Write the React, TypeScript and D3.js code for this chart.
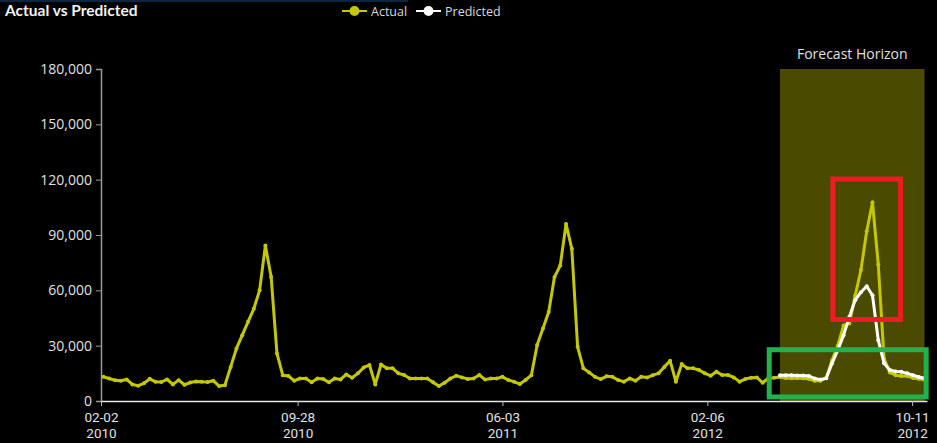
import React, { useEffect, useRef } from 'react';
import * as d3 from 'd3';

const WIDTH = 937;
const HEIGHT = 443;

// weekly observations, first one on this date
const firstWeek = '2010-02-05';
const actual = [
  13100, 12200, 11200, 11000, 11700, 9000, 8300, 9600, 12000, 10400,
  10300, 11700, 9000, 11300, 8800, 10000, 10600, 10400, 10300, 11000,
  8100, 8500, 18500, 28500, 35700, 42900, 50000, 60000, 84300, 67200,
  25800, 14000, 13500, 11000, 12200, 12200, 10100, 12200, 11900, 10100,
  12200, 11700, 14400, 12600, 15000, 18200, 19500, 9000, 19800, 17700,
  17700, 15000, 14100, 12200, 12200, 12200, 12200, 10100, 8100, 9900,
  12200, 13700, 12800, 11900, 12200, 14100, 11600, 12200, 12200, 13100,
  11400, 10500, 9200, 11400, 14000, 30300, 39300, 48300, 67200, 73500,
  96000, 82500, 29400, 17700, 15500, 13100, 11900, 13400, 13100, 11400,
  10500, 12200, 11000, 13100, 12700, 14000, 15000, 18500, 21800, 10500,
  20000, 17700, 17700, 16800, 15000, 13700, 15900, 14100, 14100, 12800,
  10500, 11900, 12600, 12800, 9900, 12300, 12600, 13000, 12500, 12300,
  12500, 12300, 12000, 11000, 11000, 12500, 22000, 30000, 41000, 42000,
  57000, 71000, 92000, 107700, 74000, 23000, 15500, 14000, 13500, 13500,
  12500, 12000, 11500,
];

const forecastStart = '2012-05-04';
const predicted = [
  14000, 14000, 14000, 13800, 13800, 13600, 12200, 11600, 12300, 20400,
  27600, 35700, 45600, 54600, 59000, 62200, 57300, 33000, 20500, 16800,
  16000, 15800, 15000, 14000, 13000, 12300,
];

const xDomain = ['2010-02-02', '2012-10-29'];
const xTicks = ['2010-02-02', '2010-09-28', '2011-06-03', '2012-02-06', '2012-10-11'];
const yTicks = [0, 30000, 60000, 90000, 120000, 150000, 180000];

// hand-drawn highlight boxes on top of the chart
const boxFrom = ['2012-07-07', '2012-04-21'];
const boxTo = ['2012-09-27', '2012-10-28'];
const boxLow = [44200, 2200];
const boxHigh = [120300, 27800];
const boxColor = ['#ed1c24', '#22b14c'];

const ACTUAL_COLOR = '#c4c800';
const PRED_COLOR = '#ffffff';
const FONT = "'Segoe UI', 'Open Sans', sans-serif";

interface Point { date: Date; value: number; }

const App: React.FC = () => {
  const svgRef = useRef<SVGSVGElement>(null);

  useEffect(() => {
    document.body.style.margin = '0';
    document.body.style.background = '#000';
    if (!svgRef.current) return;

    const svg = d3.select(svgRef.current);
    svg.selectAll('*').remove();

    const parse = d3.timeParse('%Y-%m-%d');
    const margin = { top: 69, right: 10, bottom: 42, left: 101 };

    const start = parse(firstWeek)!;
    const actualData: Point[] = actual.map((v, i) => ({ date: d3.timeDay.offset(start, 7 * i), value: v }));
    const fStart = parse(forecastStart)!;
    const predData: Point[] = predicted.map((v, i) => ({ date: d3.timeDay.offset(fStart, 7 * i), value: v }));
    const lastDate = actualData[actualData.length - 1].date;

    const x = d3.scaleTime()
      .domain(xDomain.map(d => parse(d)!))
      .range([margin.left, WIDTH - margin.right]);

    const y = d3.scaleLinear()
      .domain([0, 180000])
      .range([HEIGHT - margin.bottom, margin.top]);

    svg.append('rect').attr('width', WIDTH).attr('height', HEIGHT).attr('fill', '#000');
    svg.append('rect').attr('x', 0).attr('y', 0).attr('width', 408).attr('height', 2).attr('fill', '#0c2540');

    // Title
    svg.append('text')
      .attr('x', 5).attr('y', 16)
      .attr('fill', '#f2f2f2')
      .attr('font-family', "'Segoe UI', Lato, sans-serif")
      .attr('font-weight', 700)
      .attr('font-size', 15.5)
      .text('Actual vs Predicted');

    // Legend
    const legend = [
      { label: 'Actual', color: ACTUAL_COLOR, x: 342 },
      { label: 'Predicted', color: PRED_COLOR, x: 416 },
    ];
    const lg = svg.append('g').selectAll('g').data(legend).enter().append('g')
      .attr('transform', d => `translate(${d.x},11)`);
    lg.append('line').attr('x1', 0).attr('x2', 25).attr('stroke', d => d.color).attr('stroke-width', 2);
    lg.append('circle').attr('cx', 12.5).attr('r', 5).attr('fill', d => d.color);
    lg.append('text')
      .attr('x', 29).attr('y', 4.5)
      .attr('fill', '#d9d9d9')
      .attr('font-family', FONT)
      .attr('font-size', 12.5)
      .text(d => d.label);

    // Forecast horizon band
    svg.append('rect')
      .attr('x', x(fStart))
      .attr('y', y(180000))
      .attr('width', x(lastDate) - x(fStart))
      .attr('height', y(0) - y(180000))
      .attr('fill', '#4a4a00');

    svg.append('text')
      .attr('x', (x(fStart) + x(lastDate)) / 2)
      .attr('y', 59)
      .attr('text-anchor', 'middle')
      .attr('fill', '#e0e0e0')
      .attr('font-family', FONT)
      .attr('font-size', 14)
      .text('Forecast Horizon');

    // Axes
    svg.append('g')
      .attr('transform', `translate(${margin.left},0)`)
      .call(d3.axisLeft(y).tickValues(yTicks).tickSize(5).tickPadding(4).tickFormat(d3.format(',')))
      .call(g => g.select('.domain').attr('stroke', '#9a9a9a').attr('stroke-width', 1.5))
      .call(g => g.selectAll('.tick line').attr('stroke', '#9a9a9a'))
      .call(g => g.selectAll('.tick text').attr('fill', '#e0e0e0').attr('font-family', FONT).attr('font-size', 14));

    const fmtTop = d3.timeFormat('%m-%d');
    const fmtYear = d3.timeFormat('%Y');
    const xAxisG = svg.append('g')
      .attr('transform', `translate(0,${HEIGHT - margin.bottom})`)
      .call(d3.axisBottom(x).tickValues(xTicks.map(d => parse(d)!)).tickSize(5).tickSizeOuter(0).tickFormat(() => ''))
      .call(g => g.select('.domain').attr('stroke', '#e6e6e6').attr('stroke-width', 1.5))
      .call(g => g.selectAll('.tick line').attr('stroke', '#bbbbbb'))
      .call(g => g.selectAll('.tick text').remove());

    // two-line date labels (month-day over year)
    xAxisG.selectAll<SVGGElement, Date>('.tick').each(function (d) {
      const tick = d3.select(this);
      [fmtTop(d), fmtYear(d)].forEach((label, k) => {
        tick.append('text')
          .attr('x', 0)
          .attr('y', k === 0 ? 20.5 : 36.5)
          .attr('text-anchor', 'middle')
          .attr('fill', '#e0e0e0')
          .attr('font-family', "Roboto, 'Open Sans', sans-serif")
          .attr('font-size', 13.5)
          .text(label);
      });
    });

    // Lines
    const line = d3.line<Point>().x(d => x(d.date)).y(d => y(d.value));

    const series = [
      { data: actualData, color: ACTUAL_COLOR },
      { data: predData, color: PRED_COLOR },
    ];
    series.forEach(s => {
      svg.append('path')
        .datum(s.data)
        .attr('d', line)
        .attr('fill', 'none')
        .attr('stroke', s.color)
        .attr('stroke-width', 3)
        .attr('stroke-linejoin', 'round');
      svg.append('g').selectAll('circle').data(s.data).enter().append('circle')
        .attr('cx', d => x(d.date))
        .attr('cy', d => y(d.value))
        .attr('r', 2)
        .attr('fill', s.color);
    });

    // Highlight boxes
    boxFrom.forEach((f, i) => {
      const x0 = x(parse(f)!);
      const x1 = x(parse(boxTo[i])!);
      svg.append('rect')
        .attr('x', x0)
        .attr('y', y(boxHigh[i]))
        .attr('width', x1 - x0)
        .attr('height', y(boxLow[i]) - y(boxHigh[i]))
        .attr('fill', 'none')
        .attr('stroke', boxColor[i])
        .attr('stroke-width', 5);
    });
  }, []);

  return (
    <svg ref={svgRef} width={WIDTH} height={HEIGHT} style={{ display: 'block' }} />
  );
};

export default App;
